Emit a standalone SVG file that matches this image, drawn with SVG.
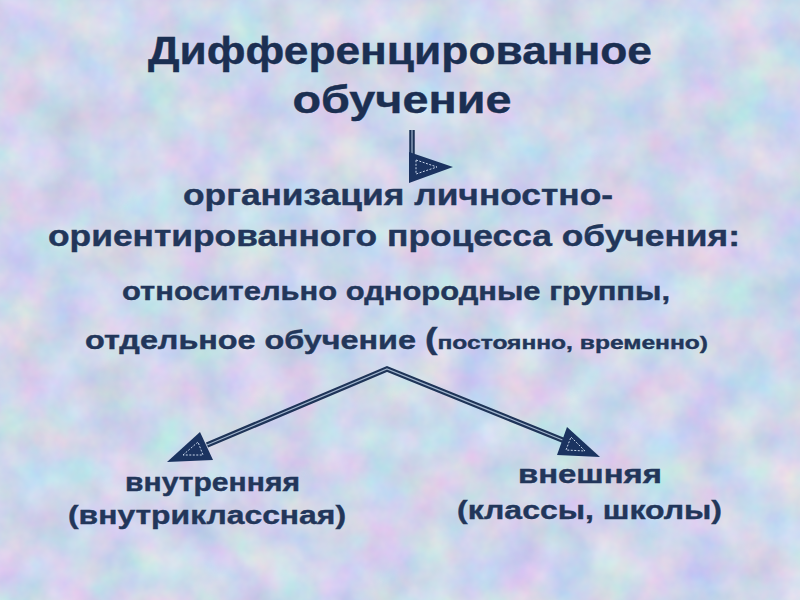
<svg xmlns="http://www.w3.org/2000/svg" width="800" height="600" viewBox="0 0 800 600">
<defs>
<filter id="tex" x="0" y="0" width="100%" height="100%" color-interpolation-filters="sRGB">
<feTurbulence type="fractalNoise" baseFrequency="0.022" numOctaves="4" seed="7" result="n"/>
<feColorMatrix in="n" type="matrix" values="0.28 0 0 0 0.67  0 0.2 0 0 0.74  0 0 0.12 0 0.86  0 0 0 0 1"/>
</filter>
<style>
text{font-family:"Liberation Sans","Arial",sans-serif;font-weight:bold;text-anchor:middle;fill:#22365a;stroke:#22365a;stroke-width:0.4}
.t{font-size:38px;fill:#1b2f52;stroke:#1b2f52}
.m{font-size:30px}
.s{font-size:25px}
.xs{font-size:19px}
.b{font-size:26px}
.ln{fill:none;stroke:#1e3458;stroke-width:5.5;stroke-linejoin:miter}
.lc{fill:none;stroke:#9fb3cc;stroke-width:1.2}
.hd{fill:#1b3360}
.hi{fill:none;stroke:#c9d6ea;stroke-width:1;stroke-dasharray:2 1.5}
</style>
</defs>
<rect width="800" height="600" fill="#cad6ec"/>
<rect width="800" height="600" filter="url(#tex)"/>
<g id="title">
<text class="t" x="400" y="64" textLength="504" lengthAdjust="spacingAndGlyphs">Дифференцированное</text>
<text class="t" x="402" y="113" textLength="219" lengthAdjust="spacingAndGlyphs">обучение</text>
</g>
<g id="org">
<text class="m" x="398" y="205" textLength="430" lengthAdjust="spacingAndGlyphs">организация личностно-</text>
<text class="m" x="394" y="246" textLength="692" lengthAdjust="spacingAndGlyphs">ориентированного процесса обучения:</text>
</g>
<g id="groups">
<text class="s" x="396" y="300" textLength="548" lengthAdjust="spacingAndGlyphs">относительно однородные группы,</text>
<text class="s" x="396.5" y="349" textLength="623" lengthAdjust="spacingAndGlyphs">отдельное обучение <tspan font-size="29">(</tspan><tspan class="xs">постоянно, временно)</tspan></text>
</g>
<g id="inner">
<text class="b" x="212.5" y="491" textLength="175" lengthAdjust="spacingAndGlyphs">внутренняя</text>
<text class="b" x="207" y="524" textLength="278" lengthAdjust="spacingAndGlyphs">(внутриклассная)</text>
</g>
<g id="outer">
<text class="b" x="590" y="483" textLength="144" lengthAdjust="spacingAndGlyphs">внешняя</text>
<text class="b" x="589.5" y="519" textLength="265" lengthAdjust="spacingAndGlyphs">(классы, школы)</text>
</g>
<g id="connectors">
<path class="ln" d="M412,130 V155"/>
<path class="lc" d="M412,130 V155"/>
<polygon class="hd" points="409,152 453,167 409,183"/>
<polygon class="hi" points="416,160 437,167 416,174"/>
<path class="ln" d="M207,445 L387,369 L565,441"/>
<path class="lc" d="M207,445 L387,369 L565,441"/>
<polygon class="hd" points="167,462 200,432 213,460"/>
<polygon class="hi" points="183,455 198,442 203,455"/>
<polygon class="hd" points="600,457 567,427 557,455"/>
<polygon class="hi" points="585,451 571,437 566,450"/>
</g>
</svg>
